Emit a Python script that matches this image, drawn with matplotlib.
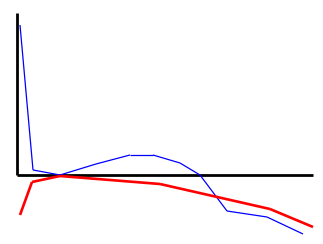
import matplotlib
matplotlib.use('Agg')
import matplotlib.pyplot as plt

# values (x to the right, y up from the horizontal axis)
blue_x = [4, 17, 44, 80, 114, 137, 164, 184, 211, 251, 287]
blue_y = [150, 5, 0, 11, 20, 20, 12, 0, -36, -42, -59]
red_x = [4, 16, 44, 144, 254, 297]
red_y = [-40, -7, -1, -9, -34, -52]


def draw_segments(ax, xs, ys, color, lw):
    # each piece drawn on its own, like the original
    for i in range(len(xs) - 1):
        ax.plot(xs[i:i + 2], ys[i:i + 2], color=color, linewidth=lw,
                solid_capstyle='butt')


fig = plt.figure(figsize=(3.23, 2.44), dpi=100)
ax = fig.add_axes([0, 0, 1, 1])
ax.set_xlim(-16, 307)
ax.set_ylim(-69, 175)
ax.axis('off')

# axes drawn as plain black lines
ax.vlines(0.5, 0, 162, color='black', linewidth=2)
ax.hlines(0, 0.5, 297, color='black', linewidth=2)

draw_segments(ax, blue_x, blue_y, 'blue', 0.9)
draw_segments(ax, red_x, red_y, 'red', 1.9)

fig.savefig('out.png', dpi=100)
